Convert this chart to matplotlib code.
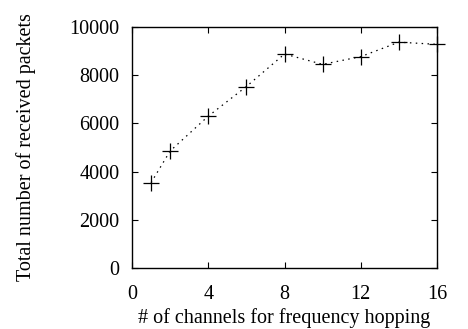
import matplotlib
matplotlib.use("Agg")
import matplotlib.pyplot as plt

channels = [1, 2, 4, 6, 8, 10, 12, 14, 16]
packets = [3540, 4855, 6300, 7530, 8880, 8450, 8770, 9370, 9280]
xticks = [0, 4, 8, 12, 16]
yticks = [0, 2000, 4000, 6000, 8000, 10000]

plt.rcParams['font.family'] = ['Liberation Serif', 'DejaVu Serif']
plt.rcParams['font.size'] = 14.5

fig = plt.figure(figsize=(4.68, 3.29), dpi=100)
ax = fig.add_axes([132/468, 1-268/329, (437-132)/468, (268-27)/329])
ax.plot(channels, packets, color='black', linestyle=(0, (1.2, 3.5)), linewidth=0.9,
        marker='+', markersize=11, markeredgewidth=0.9, clip_on=False)
ax.set_xlim(0, 16)
ax.set_ylim(0, 10000)
ax.set_xticks(xticks)
ax.set_yticks(yticks)
ax.tick_params(direction='in', top=True, right=True, length=4, width=0.8)
ax.tick_params(axis='x', pad=12)
ax.tick_params(axis='y', pad=9)
for s in ax.spines.values():
    s.set_linewidth(1.0)
ax.set_xlabel('# of channels for frequency hopping', labelpad=3)
ax.set_ylabel('Total number of received packets', labelpad=24)
fig.savefig('out.png', dpi=100)
